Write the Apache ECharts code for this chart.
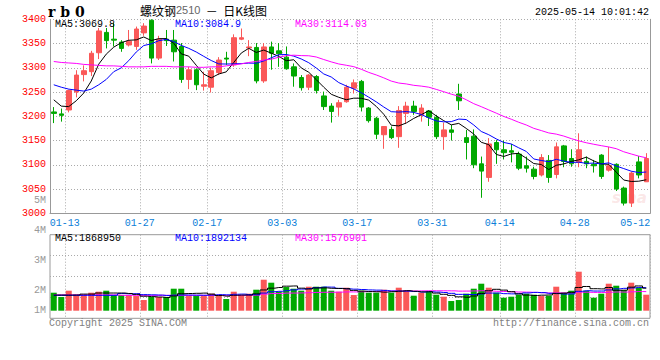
<!DOCTYPE html>
<html><head><meta charset="utf-8">
<script src="https://cdn.jsdelivr.net/npm/echarts@6/dist/echarts.min.js"></script>
<style>html,body{margin:0;padding:0;background:#fff}#c{width:660px;height:360px}</style>
</head><body><div id="c"></div><script>
const dates = ['01-09','01-10','01-13','01-14','01-15','01-16','01-17','01-20','01-21','01-22','01-23','01-24','01-27',
'02-05','02-06','02-07','02-10','02-11','02-12','02-13','02-14','02-17','02-18','02-19','02-20','02-21','02-24','02-25','02-26','02-27','02-28',
'03-03','03-04','03-05','03-06','03-07','03-10','03-11','03-12','03-13','03-14','03-17','03-18','03-19','03-20','03-21','03-24','03-25','03-26','03-27','03-28','03-31',
'04-01','04-02','04-03','04-07','04-08','04-09','04-10','04-11','04-14','04-15','04-16','04-17','04-18','04-21','04-22','04-23','04-24','04-25','04-28','04-29','04-30',
'05-06','05-07','05-08','05-09','05-12','05-13','05-14'];
const tickLabels = ['01-13','01-27','02-17','03-03','03-17','03-31','04-14','04-28','05-12'];
const gridDates = ['01-13','01-27','02-17','03-03','03-17','03-31','04-14','04-28'];

const opens  = [3209,3205,3213,3250,3286,3292,3331,3373,3359,3353,3347,3344,3372,3398,3320,3359,3357,3344,3276,3296,
3262,3260,3290,3320,3306,3359,3341,3342,3273,3343,3335,3322,3302,3280,3260,3282,3242,3221,3219,3230,
3258,3272,3217,3196,3162,3173,3158,3206,3221,3203,3211,3198,3158,3172,3246,3156,3159,3102,3074,3146,
3131,3129,3122,3098,3091,3079,3109,3080,3139,3113,3105,3107,3101,3120,3089,3101,3052,3021,3106,3065];
const closes = [3206,3202,3253,3285,3294,3330,3376,3356,3357,3340,3355,3380,3386,3320,3359,3356,3333,3276,3296,3265,
3265,3294,3316,3318,3362,3362,3343,3273,3343,3330,3329,3298,3283,3259,3285,3253,3220,3210,3228,3260,
3269,3219,3191,3163,3179,3156,3212,3221,3210,3217,3198,3158,3172,3167,3232,3146,3100,3087,3143,3131,
3125,3126,3093,3093,3076,3115,3074,3137,3107,3102,3131,3102,3098,3076,3098,3050,3021,3083,3079,3113];
const lows   = [3186,3189,3208,3239,3272,3283,3318,3340,3344,3333,3344,3337,3366,3309,3316,3345,3313,3269,3256,3254,
3253,3249,3285,3306,3302,3357,3324,3268,3269,3296,3302,3296,3261,3253,3254,3247,3213,3187,3201,3228,
3247,3210,3187,3153,3133,3153,3135,3184,3203,3189,3180,3153,3131,3150,3213,3111,3093,3032,3065,3102,
3111,3105,3089,3084,3070,3076,3063,3072,3095,3096,3095,3093,3084,3071,3086,3046,3016,3013,3072,3065];
const highs  = [3219,3216,3255,3295,3305,3335,3382,3382,3393,3357,3378,3385,3392,3400,3366,3378,3378,3351,3302,3299,
3292,3300,3322,3333,3369,3381,3357,3351,3351,3354,3351,3344,3309,3285,3287,3285,3251,3227,3234,3265,
3276,3275,3219,3199,3180,3179,3221,3230,3232,3225,3213,3203,3187,3182,3267,3172,3173,3117,3155,3151,
3150,3143,3127,3117,3096,3122,3120,3146,3141,3132,3165,3117,3110,3122,3137,3103,3055,3086,3118,3124];
const volumes = [1500000,1139000,1667000,1306000,1306000,1500000,1583000,1667000,1306000,1306000,
1306000,1222000,889000,1139000,1139000,1139000,1833000,1833000,1222000,1222000,
1222000,1417000,1222000,972000,1583000,1306000,1417000,1750000,2583000,2333000,
1583000,1972000,1833000,1667000,2000000,2000000,2000000,1667000,1583000,1917000,
1306000,1667000,1500000,1500000,1750000,1500000,1917000,1667000,1250000,1500000,
1583000,1333000,1167000,806000,889000,1417000,1833000,2250000,1917000,1500000,
1083000,1167000,1333000,1417000,1333000,1222000,1250000,2000000,1500000,1667000,
3250000,1667000,1083000,1417000,2250000,2083000,1722000,2333000,1917000,1333000];

// moving-average values before enough in-window history exists
const ma5Lead  = [3234,3221,3220,3232];
const ma10Lead = [3265,3260,3256,3254,3252,3256,3265,3276,3292];
const ma30Lead = [3313,3311,3310,3309,3307,3306,3305,3304,3304,3303,3302,3302,3302,3303,3303,3303,3302,3302,3302,3301,
3301,3302,3302,3304,3306,3308,3311,3313,3316];
const vma5Lead  = [1300000,1300000,1300000,1310000];
const vma10Lead = [1280000,1280000,1280000,1280000,1280000,1280000,1280000,1280000,1280000];
const vma30Lead = [1320000,1320000,1320000,1320000,1320000,1320000,1320000,1320000,1320000,1280000,
1280000,1280000,1280000,1280000,1280000,1280000,1280000,1280000,1280000,1280000,
1280000,1280000,1280000,1280000,1280000,1280000,1280000,1300000,1380000];

const volTickValues = [1333333,2000000,3000000,4000000,5000000];
const maText  = ['MA5:3069.8','MA10:3084.9','MA30:3114.03'];
const vmaText = ['MA5:1868950','MA10:1892134','MA30:1576901'];

const RED = '#fa5858', GREEN = '#00a800', GRIDC = '#aaaaaa', BORDER = '#999999';
const MONO = '"Liberation Mono","DejaVu Sans Mono",monospace';

function movingAvg(arr, n, lead, dp) {
  return arr.map((_, i) => {
    if (i < lead.length) return lead[i];
    let s = 0; for (let k = i - n + 1; k <= i; k++) s += arr[k];
    return +(s / n).toFixed(dp);
  });
}
const ma5 = movingAvg(closes, 5, ma5Lead, 2);
const ma10 = movingAvg(closes, 10, ma10Lead, 2);
const ma30 = movingAvg(closes, 30, ma30Lead, 2);
const vma5 = movingAvg(volumes, 5, vma5Lead, 0);
const vma10 = movingAvg(volumes, 10, vma10Lead, 0);
const vma30 = movingAvg(volumes, 30, vma30Lead, 0);

const dotted = {color: GRIDC, width: 1, type: [1, 2]};
const chart = echarts.init(document.getElementById('c'), null, {renderer: 'svg'});

function txt(x, y, text, fill, font, align) {
  return {type: 'text', x: x, y: y, silent: true, z: 100,
    style: {text: text, fill: fill, font: font, align: align || 'left', textAlign: align || 'left',
      verticalAlign: 'middle', textVerticalAlign: 'middle'}};
}

chart.setOption({
  animation: false,
  backgroundColor: '#fff',
  grid: [
    {left: 50, right: 10, top: 19.3, height: 194, show: false},
    {left: 50, right: 10, top: 234.7, height: 76, show: false},
    {left: 50, right: 10, top: 234.7, height: 83.6, show: true, borderColor: BORDER, borderWidth: 1, backgroundColor: 'transparent'},
    {left: 50, right: 10, top: 200.7, height: 120, show: false}
  ],
  xAxis: [
    {type: 'category', gridIndex: 0, data: dates, boundaryGap: true,
      axisLine: {show: true, onZero: false, lineStyle: {color: BORDER}}, axisTick: {show: false},
      axisLabel: {interval: (i, v) => tickLabels.includes(v), margin: 5, color: '#0a7ed8', fontSize: 10, fontFamily: MONO,
        formatter: v => v === '05-12' ? '{e|' + v + '}' : '{n|' + v + '}',
        rich: {n: {padding: [0, 8, 0, 0], color: '#0a7ed8', fontSize: 10, fontFamily: MONO},
               e: {padding: [0, 0, 0, 8], color: '#0a7ed8', fontSize: 10, fontFamily: MONO}}},
      splitLine: {show: true, interval: (i, v) => gridDates.includes(v), lineStyle: dotted}},
    {type: 'category', gridIndex: 1, data: dates, boundaryGap: true, show: false},
    {type: 'category', gridIndex: 2, data: dates, boundaryGap: true,
      axisLine: {show: false}, axisTick: {show: false}, axisLabel: {show: false},
      splitLine: {show: true, interval: (i, v) => gridDates.includes(v), lineStyle: dotted}},
    {type: 'category', gridIndex: 3, data: dates, show: false}
  ],
  yAxis: [
    {type: 'value', gridIndex: 0, min: 3000, max: 3400, interval: 50,
      axisLine: {show: true, onZero: false, lineStyle: {color: BORDER}}, axisTick: {show: false},
      axisLabel: {color: '#f00', fontSize: 10, fontFamily: MONO, margin: 4, formatter: v => String(v)},
      splitLine: {show: true, showMinLine: false, showMaxLine: true, lineStyle: dotted}},
    {type: 'value', gridIndex: 0, position: 'right', min: 0, max: 1,
      axisLine: {show: true, onZero: false, lineStyle: {color: BORDER}}, axisTick: {show: false},
      axisLabel: {show: false}, splitLine: {show: false}},
    {type: 'value', gridIndex: 1, min: 0, max: 6333333, show: false},
    {type: 'value', gridIndex: 2, min: 0, max: 4, interval: 1,
      axisLine: {show: false}, axisTick: {show: false}, axisLabel: {show: false},
      splitLine: {show: true, showMinLine: false, showMaxLine: false, lineStyle: dotted}},
    {type: 'value', gridIndex: 3, min: 1000000, max: 5000000,
      axisLine: {show: false}, axisTick: {show: false}, splitLine: {show: false},
      axisLabel: {customValues: volTickValues, formatter: v => Math.round(v / 1e6) + 'M',
        color: '#999', fontSize: 10, fontFamily: MONO, margin: 4}}
  ],
  series: [
    {type: 'candlestick', xAxisIndex: 0, yAxisIndex: 0, barWidth: 5, z: 2,
      data: dates.map((d, i) => [opens[i], closes[i], lows[i], highs[i]]),
      itemStyle: {color: RED, color0: GREEN, borderColor: RED, borderColor0: GREEN, borderWidth: 1}},
    {type: 'line', xAxisIndex: 0, yAxisIndex: 0, data: ma5, symbol: 'none', z: 3, lineStyle: {color: '#000', width: 1}},
    {type: 'line', xAxisIndex: 0, yAxisIndex: 0, data: ma10, symbol: 'none', z: 3, lineStyle: {color: '#0000ff', width: 1}},
    {type: 'line', xAxisIndex: 0, yAxisIndex: 0, data: ma30, symbol: 'none', z: 3, lineStyle: {color: '#ff00ff', width: 1}},
    {type: 'bar', xAxisIndex: 1, yAxisIndex: 2, barWidth: 6, z: 2,
      data: volumes.map((v, i) => ({value: v, itemStyle: {color: closes[i] > opens[i] ? RED : GREEN}}))},
    {type: 'line', xAxisIndex: 1, yAxisIndex: 2, data: vma30, symbol: 'none', step: 'middle', z: 3, lineStyle: {color: '#ff00ff', width: 1}},
    {type: 'line', xAxisIndex: 1, yAxisIndex: 2, data: vma10, symbol: 'none', step: 'middle', z: 3, lineStyle: {color: '#0000ff', width: 1}},
    {type: 'line', xAxisIndex: 1, yAxisIndex: 2, data: vma5, symbol: 'none', step: 'middle', z: 3, lineStyle: {color: '#000', width: 1}}
  ],
  graphic: [
    txt(48, 11.5, 'r b 0', '#000', 'bold 14px "DejaVu Serif"'),
    {type: 'text', x: 140, y: 10, silent: true, z: 100,
      style: {text: '{a|螺纹钢}{b|2510}{a|  －  日K线图}', verticalAlign: 'middle', textVerticalAlign: 'middle',
        rich: {a: {font: '12px "Noto Sans CJK SC"', fill: '#000', color: '#000'},
               b: {font: '11px "Liberation Sans"', fill: '#666', color: '#666'}}}},
    txt(649, 12, '2025-05-14 10:01:42', '#000', '10px ' + MONO, 'right'),
    txt(55, 24, maText[0], '#000', '10px ' + MONO),
    txt(175, 24, maText[1], '#0000ff', '10px ' + MONO),
    txt(295, 24, maText[2], '#ff00ff', '10px ' + MONO),
    txt(55, 238.3, vmaText[0], '#000', '10px ' + MONO),
    txt(175, 238.3, vmaText[1], '#0000ff', '10px ' + MONO),
    txt(295, 238.3, vmaText[2], '#ff00ff', '10px ' + MONO),
    txt(49, 323.5, 'Copyright 2025 SINA.COM', '#808080', '10px ' + MONO),
    txt(649, 323.5, 'http://finance.sina.com.cn', '#808080', '10px ' + MONO, 'right'),
    {type: 'text', x: 612, y: 198, silent: true, z: 1,
      style: {text: 'sina', fill: 'rgba(235,110,110,0.18)', font: 'italic bold 15px "DejaVu Sans"',
        verticalAlign: 'middle', textVerticalAlign: 'middle'}}
  ]
});
</script></body></html>
